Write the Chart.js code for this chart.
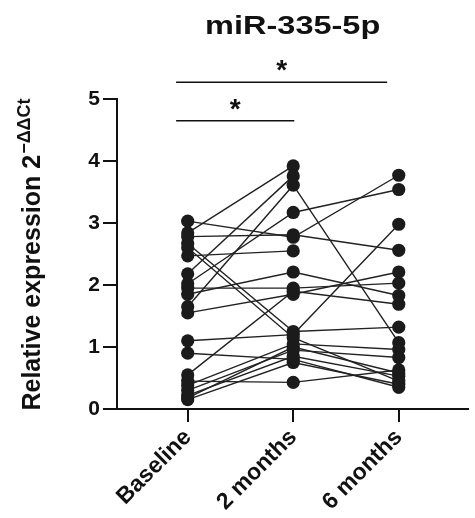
<!DOCTYPE html>
<html>
<head>
<meta charset="utf-8">
<script src="https://cdn.jsdelivr.net/npm/chart.js@4.4.0/dist/chart.umd.min.js"></script>
<style>
  body { margin: 0; background: #fff; }
  #wrap { width: 475px; height: 518px; position: relative; }
</style>
</head>
<body>
<div id="wrap"><canvas id="pairChart"></canvas></div>
<script>
// chart data
var categories = ["Baseline", "2 months", "6 months"];
var baseline   = [3.03, 2.84, 2.78, 2.67, 2.60, 2.47, 2.18, 2.02, 1.95, 1.85, 1.65, 1.55, 1.10, 0.90, 0.55, 0.45, 0.38, 0.30, 0.22, 0.15, 0.18];
var twoMonths  = [2.77, 3.92, 2.81, 1.25, 1.15, 2.55, 3.76, 3.17, 1.95, 2.21, 3.61, 1.85, 1.20, 0.80, 1.90, 0.43, 1.05, 0.95, 0.85, 0.75, 1.00];
var sixMonths  = [3.77, null, 2.56, 1.32, 0.45, null, null, 3.54, 2.03, 1.83, 1.07, 2.21, 2.98, 0.35, 1.69, 0.63, 0.96, 0.83, 0.53, 0.40, 0.58];
var yTicks = [0, 1, 2, 3, 4, 5];
var chartTitle = "miR-335-5p";
var sigStars = ["*", "*"];

var FONT = 'Arial, "Liberation Sans", sans-serif';

var datasets = baseline.map(function(b, i) {
  return {
    data: [
      { x: 0, y: b },
      { x: 1, y: twoMonths[i] },
      { x: 2, y: sixMonths[i] }
    ],
    borderColor: '#222',
    borderWidth: 1.4,
    pointBackgroundColor: '#1b1b1b',
    pointBorderWidth: 0,
    pointRadius: 6.6,
    spanGaps: false
  };
});

// title, y axis title with superscript, significance bars
var textPlugin = {
  id: 'textPlugin',
  afterDraw: function(chart) {
    var ctx = chart.ctx;
    var area = chart.chartArea;
    var xs = chart.scales.x, ys = chart.scales.y;

    // title
    ctx.save();
    ctx.fillStyle = '#111';
    ctx.font = 'bold 25px ' + FONT;
    ctx.textAlign = 'center';
    ctx.textBaseline = 'alphabetic';
    ctx.translate((area.left + area.right) / 2, 34);
    ctx.scale(1.3, 1);
    ctx.fillText(chartTitle, 0, 0);
    ctx.restore();

    // y axis title
    ctx.save();
    ctx.fillStyle = '#111';
    var main = 'Relative expression 2';
    var sup = '\u2212\u0394\u0394Ct';
    ctx.font = 'bold 25px ' + FONT;
    var wMain = ctx.measureText(main).width;
    ctx.font = 'bold 18px ' + FONT;
    var wSup = ctx.measureText(sup).width;
    var cy = 255;
    ctx.translate(40, cy);
    ctx.rotate(-Math.PI / 2);
    var start = -(wMain + wSup) / 2;
    ctx.textAlign = 'left';
    ctx.textBaseline = 'alphabetic';
    ctx.font = 'bold 25px ' + FONT;
    ctx.fillText(main, start, 0);
    ctx.font = 'bold 18px ' + FONT;
    ctx.fillText(sup, start + wMain + 1, -10);
    ctx.restore();

    // significance bars
    ctx.save();
    ctx.strokeStyle = '#111';
    ctx.lineWidth = 1.5;
    var bars = [
      { from: -0.11, to: 1.89, y: 5.27, star: sigStars[0] },
      { from: -0.11, to: 1.01, y: 4.65, star: sigStars[1] }
    ];
    bars.forEach(function(b) {
      var x1 = xs.getPixelForValue(b.from), x2 = xs.getPixelForValue(b.to);
      var py = ys.getPixelForValue(b.y);
      ctx.beginPath();
      ctx.moveTo(x1, py);
      ctx.lineTo(x2, py);
      ctx.stroke();
      ctx.fillStyle = '#111';
      ctx.font = 'bold 28px ' + FONT;
      ctx.textAlign = 'center';
      ctx.textBaseline = 'alphabetic';
      ctx.fillText(b.star, (x1 + x2) / 2, py - 3);
    });
    ctx.restore();
  }
};

var ctx = document.getElementById('pairChart').getContext('2d');
new Chart(ctx, {
  type: 'line',
  data: { datasets: datasets },
  options: {
    responsive: true,
    maintainAspectRatio: false,
    animation: false,
    layout: { padding: { top: 99, right: 0, bottom: 0, left: 0 } },
    plugins: {
      legend: { display: false },
      tooltip: { enabled: false },
      title: { display: false }
    },
    scales: {
      x: {
        type: 'linear',
        min: -0.67,
        max: 2.66,
        afterBuildTicks: function(scale) {
          scale.ticks = categories.map(function(c, i) { return { value: i }; });
        },
        afterFit: function(scale) { scale.height = 109; },
        ticks: {
          callback: function(v) { return categories[v]; },
          color: '#111',
          font: { family: FONT, size: 23, weight: 'bold' },
          maxRotation: 45,
          minRotation: 45,
          padding: 2
        },
        grid: { drawOnChartArea: false, drawTicks: true, tickLength: 13, color: '#111', lineWidth: 2 },
        border: { color: '#111', width: 2 }
      },
      y: {
        min: 0,
        max: 5,
        afterBuildTicks: function(scale) {
          scale.ticks = yTicks.map(function(v) { return { value: v }; });
        },
        afterFit: function(scale) { scale.width = 117; },
        ticks: {
          color: '#111',
          font: { family: FONT, size: 21, weight: 'bold' },
          padding: 3
        },
        grid: { drawOnChartArea: false, drawTicks: true, tickLength: 14, color: '#111', lineWidth: 2 },
        border: { color: '#111', width: 2 }
      }
    }
  },
  plugins: [textPlugin]
});
</script>
</body>
</html>
